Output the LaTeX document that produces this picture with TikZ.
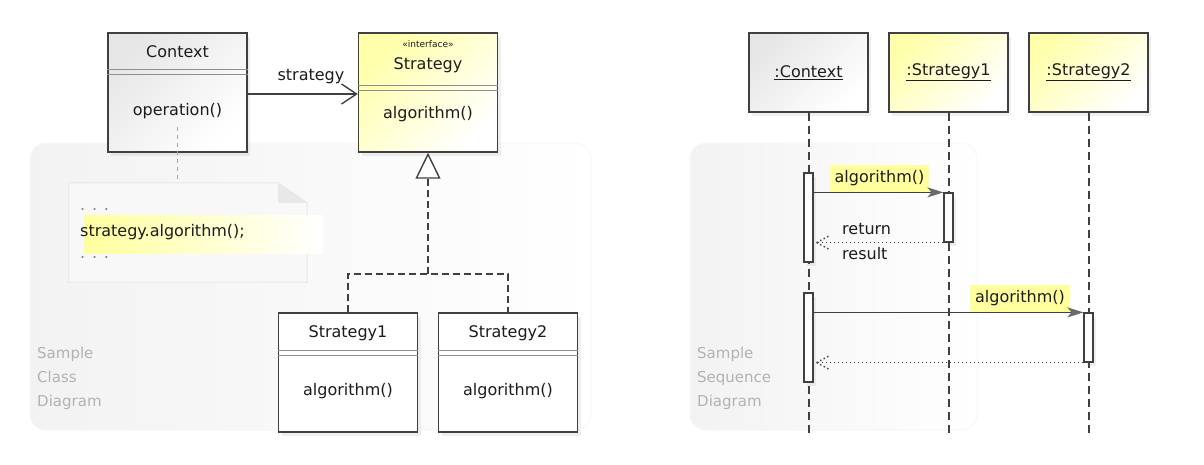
\documentclass[tikz,border=0pt]{standalone}
\usepackage{fontspec}
\setmainfont{DejaVu Sans}
\usetikzlibrary{arrows.meta,shadows,calc}
\definecolor{ink}{HTML}{1C1C1C}
\definecolor{edge}{HTML}{404040}
\definecolor{divl}{HTML}{8E8E8E}
\definecolor{hl}{HTML}{FFFF9E}
\definecolor{ylw}{HTML}{FFFFAA}
\definecolor{gry}{HTML}{E6E6E6}
\definecolor{lbl}{HTML}{B2B2B2}
\definecolor{notebg}{HTML}{F8F8F8}
\definecolor{noteedge}{HTML}{E8E8E8}
\definecolor{tipc}{HTML}{6A6A6A}
\tikzset{
  txt/.style={font=\fontsize{16}{19}\selectfont, text=ink, inner sep=0pt},
  small/.style={font=\fontsize{9}{10}\selectfont, text=ink, inner sep=0pt},
  sample/.style={font=\fontsize{15}{24}\selectfont, text=lbl, inner sep=0pt, align=left, anchor=north west},
  shad/.style={drop shadow={opacity=0.12,shadow xshift=3pt,shadow yshift=-4pt}},
  clsbox/.style={draw=edge, line width=1.4pt, minimum width=139pt, minimum height=119pt, inner sep=0pt, shad},
  headbox/.style={draw=edge, line width=1.4pt, minimum width=119pt, minimum height=79pt, inner sep=0pt, shad, txt},
  actbox/.style={draw=edge, line width=1.2pt, fill=white, minimum width=9pt, inner sep=0pt, shad},
  whitefill/.style={fill=white},
  grayfill/.style={top color=gry, bottom color=white, shading angle=45},
  yellowfill/.style={top color=ylw, bottom color=white, shading angle=45},
  divider/.style={draw=divl, line width=1pt},
  panel/.style={left color=black!5, right color=white, draw=black!3, line width=1pt, rounded corners=16pt},
  lifeline/.style={draw=edge, line width=2pt, dash pattern=on 8pt off 5pt},
  msg/.style={draw=edge, line width=1.4pt, -{Stealth[length=16pt,width=10pt,inset=4pt,color=tipc,fill=tipc]}},
  ret/.style={draw=edge, line width=1.4pt, dash pattern=on 1.4pt off 2.6pt},
  hlbox/.style={fill=hl, minimum height=27pt, txt}
}
\begin{document}
\begin{tikzpicture}[x=1pt,y=-1pt]
\useasboundingbox (0,0) rectangle (1204,464);
\fill[white] (0,0) rectangle (1204,464);

% ---------- panels ----------
\path[panel] (30,143) rectangle (591,430);
\path[panel] (690,143) rectangle (977,430);
\node[sample] (lblA) at (37,347) {Sample\\Class\\Diagram};
\node[sample] (lblB) at (697,347) {Sample\\Sequence\\Diagram};

% ---------- class diagram ----------
\node[clsbox, grayfill] (ctx) at (177.5,92.5) {};
\node[txt] (ctxname) at (177.5,52) {Context};
\draw[divider] (ctx.west |- 0,69) -- (ctx.east |- 0,69);
\draw[divider] (ctx.west |- 0,74) -- (ctx.east |- 0,74);
\node[txt] (op) at (177.5,111) {operation()};

\node[clsbox, yellowfill] (str) at (428,92.5) {};
\node[small] (stereo) at (428,44) {«interface»};
\node[txt] (strname) at (428,65) {Strategy};
\draw[divider] (str.west |- 0,85) -- (str.east |- 0,85);
\draw[divider] (str.west |- 0,90) -- (str.east |- 0,90);
\node[txt] (stralg) at (428,114) {algorithm()};

\draw[draw=edge, line width=1.5pt, -{Straight Barb[length=15pt,width=20pt,line width=1.4pt]}] (ctx.east |- 0,94) -- (str.west |- 0,94);
\node[txt] (assoc) at (311,77) {strategy};

\node[clsbox, whitefill] (s1) at (348,372.5) {};
\node[txt] (s1name) at (348,333) {Strategy1};
\draw[divider] (s1.west |- 0,350) -- (s1.east |- 0,350);
\draw[divider] (s1.west |- 0,355) -- (s1.east |- 0,355);
\node[txt] (s1alg) at (348,391) {algorithm()};

\node[clsbox, whitefill] (s2) at (508,372.5) {};
\node[txt] (s2name) at (508,333) {Strategy2};
\draw[divider] (s2.west |- 0,350) -- (s2.east |- 0,350);
\draw[divider] (s2.west |- 0,355) -- (s2.east |- 0,355);
\node[txt] (s2alg) at (508,391) {algorithm()};

\coordinate (j) at (428,274);
\draw[draw=edge, line width=1.7pt, dash pattern=on 7pt off 4pt] (s1.north) |- (j) -| (s2.north);
\draw[draw=edge, line width=1.7pt, dash pattern=on 7pt off 4pt, -{Triangle[length=26pt,width=25pt,fill=white,line width=1.4pt]}] (j) -- (str.south);

% note
\node[minimum width=238pt, minimum height=99pt, inner sep=0pt] (note) at (188,232.5) {};
\filldraw[fill=notebg, draw=noteedge, line width=1pt] (note.south west) -- (note.north west) -- ([xshift=-29pt]note.north east) -- ([yshift=-20pt]note.north east) -- (note.south east) -- cycle;
\fill[noteedge] ([xshift=-29pt]note.north east) -- ([yshift=-20pt]note.north east) -- ([xshift=-29pt,yshift=-20pt]note.north east) -- cycle;
\fill[left color=hl, right color=white] (84,215) rectangle (323,253);
\node[txt, anchor=base west, text=black!50] (dots1) at (80,210) {. . .};
\node[txt, anchor=west] (code) at (80,232) {strategy.algorithm();};
\node[txt, anchor=base west, text=black!50] (dots2) at (80,258) {. . .};
\draw[draw=black!35, line width=1pt, dash pattern=on 4pt off 4pt] ([yshift=-8pt]op.south) -- (op.south |- note.north);

% ---------- sequence diagram ----------
\node[headbox, grayfill] (lc) at (808.5,72.5) {\underline{:Context}};
\node[headbox, yellowfill] (l1) at (948.5,72.5) {\underline{:Strategy1}};
\node[headbox, yellowfill] (l2) at (1088.5,72.5) {\underline{:Strategy2}};
\coordinate (e0) at (808.5,433);
\coordinate (e1) at (948.5,433);
\coordinate (e2) at (1088.5,433);
\draw[lifeline] (lc.south) -- (e0);
\draw[lifeline] (l1.south) -- (e1);
\draw[lifeline] (l2.south) -- (e2);

\node[actbox, minimum height=89pt] (c1) at (808.5,217.5) {};
\node[actbox, minimum height=49pt] (a1) at (948.5,217.5) {};
\node[actbox, minimum height=89pt] (c2) at (808.5,337.5) {};
\node[actbox, minimum height=49pt] (a2) at (1088.5,337.5) {};

\node[hlbox, minimum width=99pt] (m1) at (879.5,178.5) {algorithm()};
\draw[msg] (c1.east |- a1.north) -- (a1.north west);
\coordinate (r1) at ($(c1.east |- a1.south)+(3,0)$);
\draw[ret] (a1.south west) -- (r1);
\draw[ret] (r1) -- ++(13,-7);
\draw[ret] (r1) -- ++(13,7);
\node[txt, anchor=west] (rt) at (842,229) {return};
\node[txt, anchor=west] (rs) at (842,254) {result};

\node[hlbox, minimum width=100pt] (m2) at (1020,298.5) {algorithm()};
\draw[msg] (c2.east |- a2.north) -- (a2.north west);
\coordinate (r2) at ($(c2.east |- a2.south)+(3,0)$);
\draw[ret] (a2.south west) -- (r2);
\draw[ret] (r2) -- ++(13,-7);
\draw[ret] (r2) -- ++(13,7);
\end{tikzpicture}
\end{document}
